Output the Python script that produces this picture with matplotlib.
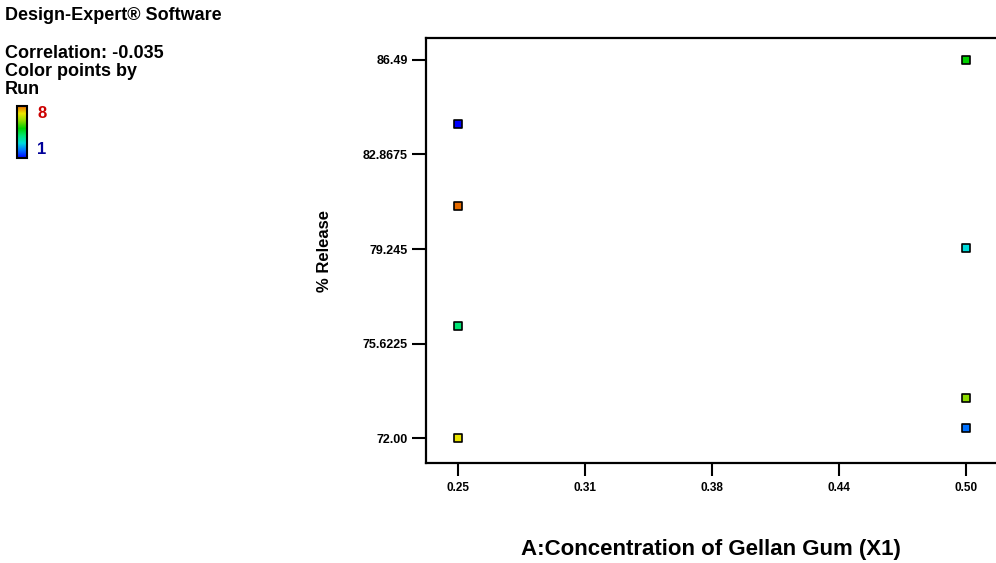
import matplotlib
matplotlib.use("Agg")
import matplotlib.pyplot as plt
import numpy as np
from matplotlib.colors import LinearSegmentedColormap, Normalize
from matplotlib.cm import ScalarMappable

plt.rcParams['font.family'] = ['Liberation Sans', 'DejaVu Sans']
plt.rcParams['font.weight'] = 'bold'

# Data
conc = [0.25, 0.25, 0.25, 0.25, 0.50, 0.50, 0.50, 0.50]
release = [84.04, 80.89, 76.29, 72.00, 86.49, 79.28, 73.53, 72.38]
runs = [1, 8, 4, 7, 5, 3, 6, 2]

x_ticks = [0.25, 0.3125, 0.375, 0.4375, 0.50]
x_tick_labels = ["0.25", "0.31", "0.38", "0.44", "0.50"]
y_ticks = [72.00, 75.6225, 79.245, 82.8675, 86.49]
y_tick_labels = ["72.00", "75.6225", "79.245", "82.8675", "86.49"]

run_min, run_max = 1, 8

cmap = LinearSegmentedColormap.from_list(
    "de_run",
    [(0.0, (0.0, 0.0, 1.0)),
     (1/7, (0.0, 0.45, 1.0)),
     (2/7, (0.0, 0.86, 0.86)),
     (3/7, (0.0, 0.9, 0.45)),
     (4/7, (0.0, 0.82, 0.0)),
     (5/7, (0.55, 0.86, 0.0)),
     (6/7, (0.92, 0.9, 0.0)),
     (1.0, (0.9, 0.42, 0.0))])
norm = Normalize(vmin=run_min, vmax=run_max)

W, H = 996, 563
fig = plt.figure(figsize=(W/100, H/100), dpi=100)

ax = fig.add_axes([426/W, 1-463/H, 1-426/W, (463-38)/H])
ax.scatter(conc, release, c=runs, cmap=cmap, norm=norm, marker='s', s=36,
           edgecolors='black', linewidths=1.2, zorder=3)

ax.set_xlim(0.2343, 0.25 + (W - 458) / 2032)
ax.set_ylim(72.00 - 25/26.09, 86.49 + 22/26.09)

ax.set_xticks(x_ticks)
ax.set_xticklabels(x_tick_labels, fontsize=8.5, fontweight='bold')
ax.set_yticks(y_ticks)
ax.set_yticklabels(y_tick_labels, fontsize=9, fontweight='bold')
ax.tick_params(axis='y', direction='out', length=10, width=1.5, pad=3)
ax.tick_params(axis='x', direction='out', length=9, width=1.5, pad=5)

for s in ['top', 'left', 'bottom']:
    ax.spines[s].set_linewidth(1.6)
ax.spines['right'].set_visible(False)

ax.set_xlabel("A:Concentration of Gellan Gum (X1)", fontsize=16, fontweight='bold', labelpad=32)
ax.set_ylabel("% Release", fontsize=12, fontweight='bold', labelpad=22)

# Header texts
hdr = dict(fontsize=13, fontweight='bold', va='center', ha='left')
fig.text(5/W, 1-15/H, "Design-Expert\u00ae Software", **hdr)
fig.text(5/W, 1-53/H, "Correlation: -0.035", **hdr)
fig.text(5/W, 1-72/H, "Color points by", **hdr)
fig.text(5/W, 1-90/H, "Run", **hdr)

cax = fig.add_axes([17/W, 1-158/H, 10/W, 52/H])
cb = fig.colorbar(ScalarMappable(norm=norm, cmap=cmap), cax=cax)
cb.set_ticks([])
cb.outline.set_linewidth(1.5)
fig.text(37/W, 1-113/H, str(run_max), color=(0.8, 0.0, 0.0), fontsize=12, fontweight='bold', va='center', ha='left')
fig.text(37/W, 1-150/H, str(run_min), color=(0.0, 0.0, 0.6), fontsize=12, fontweight='bold', va='center', ha='left')

fig.savefig("out.png", dpi=100)
